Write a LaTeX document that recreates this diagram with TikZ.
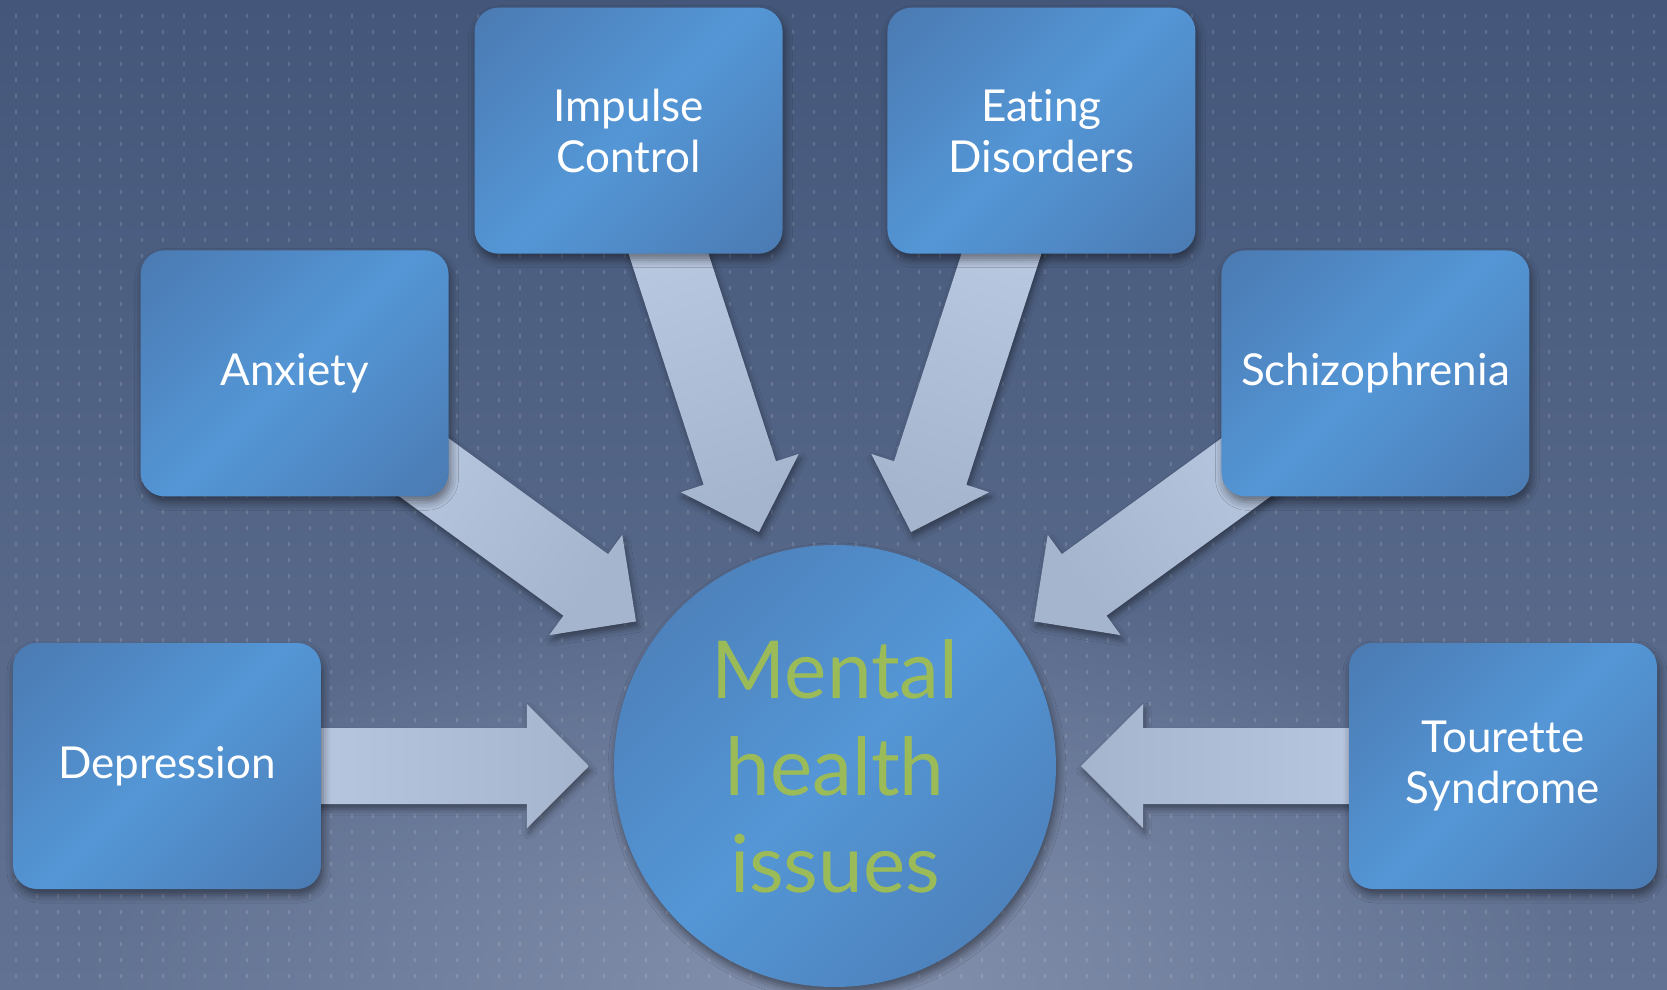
\documentclass[tikz,border=0pt]{standalone}
\usepackage{fontspec}
\setmainfont{Lato}[Ligatures=NoCommon]
\usetikzlibrary{calc,fadings,shadows.blur}
\definecolor{BGtop}{RGB}{68,87,122}
\definecolor{BGbottom}{RGB}{98,114,146}
\definecolor{BGglow}{RGB}{132,145,174}
\definecolor{BoxDark}{RGB}{74,120,175}
\definecolor{BoxLight}{RGB}{84,150,214}
\definecolor{FlowLight}{RGB}{192,207,232}
\definecolor{FlowDark}{RGB}{166,181,206}
\definecolor{HubText}{RGB}{155,187,89}

\pgfdeclarelayer{back}
\pgfdeclarelayer{flows}
\pgfsetlayers{back,flows,main}

\tikzfading[name=glow, inner color=transparent!0, outer color=transparent!100]

% dark corners, light band across the middle
\pgfdeclareverticalshading{boxshade}{100bp}{
  color(0bp)=(BoxDark); color(12bp)=(BoxDark);
  color(50bp)=(BoxLight);
  color(88bp)=(BoxDark); color(100bp)=(BoxDark)}

% block arrow from a box towards the hub; #3 = shading angle
\newcommand{\flowarrow}[3]{%
  \coordinate (tail) at (#1.center);
  \coordinate (neck) at ($(#1.center)!360pt!(#2.center)$);
  \coordinate (tip) at ($(#1.center)!422pt!(#2.center)$);
  \shade[flow, shading angle=#3]
    ($(tail)!38pt!90:(tip)$) -- ($(neck)!38pt!90:(tip)$)
    -- ($(neck)!62pt!90:(tip)$) -- (tip)
    -- ($(neck)!62pt!-90:(tip)$) -- ($(neck)!38pt!-90:(tip)$)
    -- ($(tail)!38pt!-90:(tip)$) -- cycle;
}

\begin{document}
\begin{tikzpicture}[
    x=1pt, y=1pt,
    softshadow/.style={
      blur shadow={shadow xshift=2pt, shadow yshift=-6pt,
        shadow blur radius=8pt, shadow opacity=45}
    },
    box/.style={
      rounded corners=24pt,
      minimum width=308pt,
      minimum height=246pt,
      align=center,
      text=white,
      font=\fontsize{44}{51}\selectfont,
      shading=boxshade, shading angle=45,
      softshadow
    },
    hub/.style={
      circle,
      minimum size=442pt,
      inner sep=0pt,
      align=center,
      text=HubText,
      font=\fontsize{80}{97}\selectfont,
      shading=boxshade, shading angle=45,
      softshadow
    },
    flow/.style={
      top color=FlowLight, bottom color=FlowDark,
      blur shadow={shadow xshift=2pt, shadow yshift=-5pt,
        shadow blur radius=6pt, shadow opacity=40}
    }
  ]
  \useasboundingbox (-835,-223) rectangle (832,766);

  \node[hub] (hub) at (0,0) {Mental\\health\\issues};

  \node[box] (depression) at (180:668) {Depression};
  \node[box] (anxiety) at (144:668) {Anxiety};
  \node[box] (impulse) at (108:668) {Impulse\\Control};
  \node[box] (eating) at (72:668) {Eating\\Disorders};
  \node[box] (schizo) at (36:668) {Schizophrenia};
  \node[box] (tourette) at (0:668) {Tourette\\Syndrome};

  \begin{pgfonlayer}{flows}
    \flowarrow{depression}{hub}{90}
    \flowarrow{anxiety}{hub}{54}
    \flowarrow{impulse}{hub}{18}
    \flowarrow{eating}{hub}{-18}
    \flowarrow{schizo}{hub}{-54}
    \flowarrow{tourette}{hub}{-90}
  \end{pgfonlayer}

  % dotted backdrop
  \begin{pgfonlayer}{back}
    \shade[top color=BGtop, bottom color=BGbottom]
      (-835,-223) rectangle (832,766);
    \fill[BGglow, path fading=glow] (0,-223) ellipse (760 and 420);
    \fill[white, opacity=0.13]
      \foreach \i in {0,...,78} {
        \foreach \j in {0,...,60} {
          (-820.2+21*\i, 752-16*\j) rectangle ++(2.4,-4)
        }
      };
  \end{pgfonlayer}
\end{tikzpicture}
\end{document}
